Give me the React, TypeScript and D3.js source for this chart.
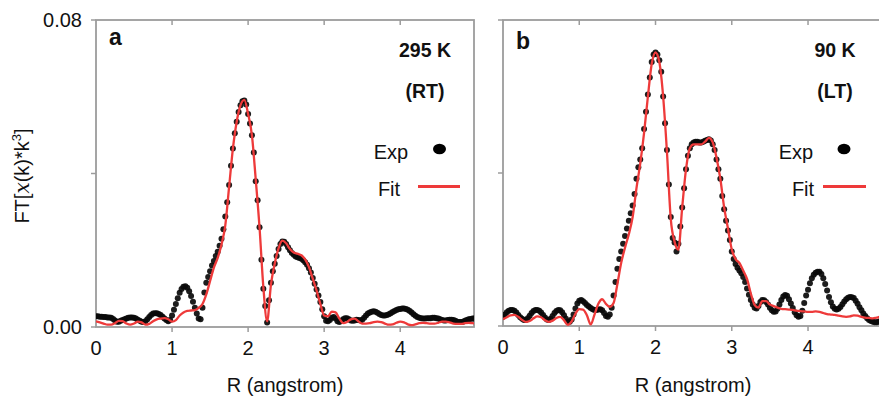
import React from 'react';
import * as d3 from 'd3';

// ---------- data (values in units of 1e-3) ----------
const Y_UNIT = 0.001;
const EXP_STEP = 0.025; // R sampling of experimental points (angstrom)
const FIT_STEP = 0.05; // R sampling of the fit curve (angstrom)

const EXP_A = [
  2.8, 2.8, 2.7, 2.7, 2.6, 2.6, 2.5, 2.5, 2.4, 2.1,
  1.7, 1.4, 1.4, 1.6, 1.8, 2.0, 2.2, 2.4, 2.5, 2.5,
  2.4, 2.2, 1.9, 1.6, 1.4, 1.3, 1.5, 2.0, 2.6, 3.1,
  3.5, 3.6, 3.6, 3.4, 3.1, 2.7, 2.2, 1.8, 1.5, 1.8,
  3.0, 4.5, 6.0, 7.5, 8.9, 9.9, 10.5, 10.6, 10.2, 9.3,
  8.1, 6.6, 5.0, 3.5, 2.2, 2.0, 5.0, 9.0, 11.5, 13.0,
  14.5, 16.0, 17.2, 18.5, 19.6, 21.2, 23.0, 25.5, 28.8, 32.5,
  37.0, 42.0, 46.5, 50.5, 53.5, 56.0, 57.8, 58.8, 59.0, 58.0,
  55.5, 53.0, 50.0, 45.5, 38.0, 33.0, 26.0, 17.5, 10.0, 5.5,
  1.2, 7.0, 11.5, 14.5, 16.5, 18.5, 20.3, 21.6, 22.3, 22.2,
  21.6, 20.8, 20.0, 19.3, 18.8, 18.4, 18.2, 18.0, 17.8, 17.4,
  16.9, 16.2, 15.3, 14.2, 12.8, 11.3, 9.8, 8.2, 6.5, 4.6,
  2.8, 1.6, 1.5, 1.8, 2.4, 2.6, 2.2, 1.5, 1.3, 1.6,
  2.0, 2.3, 2.3, 2.0, 1.7, 1.6, 1.7, 1.9, 1.8, 1.7,
  1.9, 2.4, 3.0, 3.5, 3.8, 4.0, 4.1, 4.0, 3.7, 3.4,
  3.1, 3.0, 3.0, 3.1, 3.3, 3.6, 3.9, 4.2, 4.4, 4.6,
  4.7, 4.8, 4.8, 4.7, 4.5, 4.2, 3.8, 3.3, 2.9, 2.6,
  2.4, 2.3, 2.2, 2.2, 2.3, 2.3, 2.3, 2.4, 2.4, 2.3,
  2.2, 2.0, 1.8, 1.7, 1.7, 1.8, 1.9, 1.9, 1.8, 1.6,
  1.4, 1.3, 1.3, 1.4, 1.6, 1.8, 2.0, 2.1, 2.2, 2.2,
];

const FIT_A = [
  1.5, 1.2, 0.9, 0.6, 0.6, 1.0, 1.6, 1.5, 0.9, 0.6,
  0.9, 1.4, 1.2, 0.6, 0.8, 1.5, 2.0, 2.2, 2.3, 2.0,
  1.4, 1.8, 3.0, 3.8, 4.2, 4.3, 4.4, 5.0, 6.0, 8.5,
  12.0, 15.5, 18.0, 21.5, 26.5, 36.5, 46.5, 53.5, 57.8, 59.2,
  55.5, 50.0, 38.5, 26.0, 10.5, 1.5, 11.0, 16.5, 20.5, 22.5,
  21.8, 20.3, 19.4, 19.1, 18.7, 17.6, 15.6, 12.6, 9.5, 6.0,
  3.0, 2.8, 4.0, 3.8, 2.2, 1.0, 1.3, 2.0, 2.2, 1.5,
  0.9, 0.9, 1.0, 1.3, 1.4, 1.3, 0.9, 0.6, 0.7, 1.1,
  1.4, 1.2, 0.7, 0.5, 0.7, 1.0, 1.1, 1.0, 0.9, 0.9,
  1.1, 1.4, 1.4, 1.2, 0.9, 0.8, 0.8, 1.0, 1.1, 1.0,
  0.9,
];

const EXP_B = [
  2.4, 3.0, 3.6, 4.0, 4.2, 4.2, 4.0, 3.5, 2.9, 2.3,
  1.9, 1.6, 1.6, 2.0, 2.7, 3.4, 3.9, 4.2, 4.2, 4.0,
  3.5, 2.9, 2.2, 1.7, 1.6, 1.9, 2.6, 3.4, 3.9, 4.2,
  4.1, 3.6, 2.8, 1.9, 1.2, 1.1, 1.7, 3.0, 4.6, 5.9,
  6.6, 6.8, 6.5, 6.0, 5.5, 5.1, 4.7, 4.4, 4.2, 4.2,
  4.3, 4.4, 4.1, 3.4, 2.6, 2.4, 3.0, 4.8, 8.0, 11.5,
  15.0, 17.5, 19.5, 21.5, 23.5, 25.5, 27.5, 29.5, 31.5, 34.5,
  38.5, 41.5, 43.5, 46.5, 51.5, 56.0, 60.5, 65.0, 69.0, 71.0,
  71.5, 71.0, 69.5, 66.5, 60.0, 53.0, 46.0, 37.0, 28.5, 23.0,
  21.8, 19.5, 21.5, 26.0, 31.0, 36.0, 41.0, 44.5, 46.5, 47.5,
  48.0, 48.2, 48.2, 48.0, 48.0, 48.2, 48.4, 48.6, 48.8, 48.5,
  47.5, 46.0, 43.5, 41.0, 38.5, 34.0, 30.5, 27.5, 25.0, 22.5,
  19.5, 17.5, 16.2, 15.2, 14.5, 13.8, 12.8, 11.5, 9.8, 8.2,
  6.8, 5.6, 4.8, 4.6, 5.2, 6.3, 6.8, 6.7, 6.3, 5.6,
  4.8, 4.1, 3.7, 3.8, 4.5, 5.6, 6.8, 7.7, 8.1, 7.9,
  7.0, 5.9, 4.7, 3.6, 2.8, 2.4, 2.6, 4.0, 6.0, 8.0,
  9.5, 11.2, 12.5, 13.4, 13.9, 14.2, 14.2, 13.6, 12.5, 11.0,
  9.3, 7.6, 6.2, 5.1, 4.5, 4.3, 4.5, 5.0, 5.7, 6.4,
  7.0, 7.4, 7.6, 7.5, 7.3, 6.6, 5.8, 4.9, 4.1, 3.3,
  2.6, 2.0, 1.6, 1.3, 1.1, 1.0, 1.0, 1.1, 1.3, 1.5,
];

const FIT_B = [
  1.8, 2.3, 2.8, 2.9, 2.4, 1.6, 1.1, 1.3, 2.0, 2.5,
  2.3, 1.5, 1.1, 1.4, 2.1, 2.4, 1.5, 0.3, 1.2, 3.2,
  4.4, 4.3, 2.8, 0.4, 3.0, 5.8, 7.0, 5.8, 5.0, 6.0,
  11.0, 16.5, 20.5, 24.0, 28.5, 36.0, 42.5, 50.5, 60.0, 68.5,
  71.5, 69.0, 60.0, 45.5, 28.0, 22.0, 20.0, 31.0, 41.0, 46.5,
  47.5, 47.5, 47.5, 48.2, 49.2, 48.0, 44.0, 38.5, 31.0, 25.5,
  20.0, 17.5, 16.5, 14.5, 12.3, 8.5, 5.5, 4.8, 6.5, 6.5,
  5.6, 5.2, 4.8, 4.5, 4.4, 4.3, 4.2, 4.0, 3.9, 3.8,
  3.7, 3.7, 3.8, 3.7, 3.4, 3.1, 3.0, 2.9, 2.7, 2.5,
  2.4, 2.5, 2.8, 2.7, 2.4, 2.2, 2.1, 2.0, 2.2, 2.4,
  2.3,
];

const X_TICKS = [0, 1, 2, 3, 4];
const X_TICK_LABELS = ['0', '1', '2', '3', '4'];
const Y_TICKS = [0, 0.04, 0.08];
const Y_TICK_LABELS = ['0.00', '', '0.08'];
const X_DOMAIN = [0, 4.97];
const Y_DOMAIN = [0, 0.08];
const LEGEND_LABELS = ['Exp', 'Fit'];

const FONT = "'Liberation Sans', Arial, Helvetica, sans-serif";
const FRAME = '#9c9c9c';
const RED = '#ee3a3a';

type PanelProps = {
  id: string;
  exp: number[];
  fit: number[];
  left: number;
  right: number;
  top: number;
  bottom: number;
  letter: string;
  letterPos: [number, number];
  temp: string;
  phase: string;
  tempX: number;
  expLabelX: number;
  markerX: number;
  fitLabelX: number;
  lineX: [number, number];
  showYLabels: boolean;
  xLabelX: number;
};

function Panel(p: PanelProps) {
  const x = d3.scaleLinear().domain(X_DOMAIN).range([p.left, p.right]);
  const y = d3.scaleLinear().domain(Y_DOMAIN).range([p.bottom, p.top]);
  const expPts = p.exp.map((v, i) => [i * EXP_STEP, v * Y_UNIT] as [number, number]);
  const fitPts = p.fit.map((v, i) => [i * FIT_STEP, v * Y_UNIT] as [number, number]);
  const line = d3
    .line<[number, number]>()
    .x((d) => x(d[0]))
    .y((d) => y(d[1]))
    .curve(d3.curveMonotoneX);
  const clipId = `clip-${p.id}`;
  return (
    <g>
      <defs>
        <clipPath id={clipId}>
          <rect x={p.left} y={p.top - 10} width={p.right - p.left} height={p.bottom - p.top + 14} />
        </clipPath>
      </defs>
      {/* frame */}
      <rect
        x={p.left}
        y={p.top}
        width={p.right - p.left}
        height={p.bottom - p.top}
        fill="none"
        stroke={FRAME}
        strokeWidth={1.8}
      />
      {/* x ticks bottom (outward) and top (inward) */}
      {X_TICKS.map((t, i) => (
        <g key={`xt${i}`}>
          {t > 0 && (
            <line x1={x(t)} x2={x(t)} y1={p.bottom} y2={p.bottom + 5} stroke={FRAME} strokeWidth={1.5} />
          )}
          {t > 0 && <line x1={x(t)} x2={x(t)} y1={p.top} y2={p.top + 5} stroke={FRAME} strokeWidth={1.5} />}
          <text
            x={x(t)}
            y={p.bottom + 28}
            textAnchor="middle"
            fontFamily={FONT}
            fontSize={20}
            fill="#111"
          >
            {X_TICK_LABELS[i]}
          </text>
        </g>
      ))}
      {/* y ticks */}
      {Y_TICKS.map((t, i) => (
        <g key={`yt${i}`}>
          <line x1={p.left - 5} x2={p.left} y1={y(t)} y2={y(t)} stroke={FRAME} strokeWidth={1.5} />
          {p.showYLabels && Y_TICK_LABELS[i] && (
            <text
              x={p.left - 14}
              y={y(t) + 7}
              textAnchor="end"
              fontFamily={FONT}
              fontSize={20}
              fill="#111"
            >
              {Y_TICK_LABELS[i]}
            </text>
          )}
        </g>
      ))}
      {/* data */}
      <g clipPath={`url(#${clipId})`}>
        {expPts.map((d, i) => (
          <circle key={i} cx={x(d[0])} cy={y(d[1])} r={3} fill="#0a0a0a" fillOpacity={0.92} />
        ))}
        <path d={line(fitPts) || ''} fill="none" stroke={RED} strokeWidth={2.3} strokeLinejoin="round" />
      </g>
      {/* panel letter */}
      <text x={p.letterPos[0]} y={p.letterPos[1]} fontFamily={FONT} fontWeight="bold" fontSize={23} fill="#111">
        {p.letter}
      </text>
      {/* temperature labels */}
      <text x={p.tempX} y={57} textAnchor="middle" fontFamily={FONT} fontWeight="bold" fontSize={19.5} fill="#111">
        {p.temp}
      </text>
      <text x={p.tempX} y={98} textAnchor="middle" fontFamily={FONT} fontWeight="bold" fontSize={19.5} fill="#111">
        {p.phase}
      </text>
      {/* legend */}
      <text x={p.expLabelX} y={159} textAnchor="middle" fontFamily={FONT} fontSize={20} fill="#111">
        {LEGEND_LABELS[0]}
      </text>
      <ellipse cx={p.markerX} cy={149} rx={6.5} ry={5.3} fill="#000" />
      <text x={p.fitLabelX} y={196} textAnchor="middle" fontFamily={FONT} fontSize={20} fill="#111">
        {LEGEND_LABELS[1]}
      </text>
      <line x1={p.lineX[0]} x2={p.lineX[1]} y1={186.5} y2={186.5} stroke={RED} strokeWidth={3} />
      {/* x axis title */}
      <text x={p.xLabelX} y={392} textAnchor="middle" fontFamily={FONT} fontSize={20} fill="#111">
        R (angstrom)
      </text>
    </g>
  );
}

export default function App() {
  return (
    <svg
      width={879}
      height={398}
      style={{ position: 'absolute', left: 0, top: 0, background: '#fff' }}
      xmlns="http://www.w3.org/2000/svg"
    >
      <rect x={0} y={0} width={879} height={398} fill="#fff" />
      <Panel
        id="a"
        exp={EXP_A}
        fit={FIT_A}
        left={96}
        right={474}
        top={20}
        bottom={327}
        letter="a"
        letterPos={[109, 45]}
        temp="295 K"
        phase="(RT)"
        tempX={425}
        expLabelX={391}
        markerX={439.5}
        fitLabelX={389}
        lineX={[418, 460]}
        showYLabels={true}
        xLabelX={285}
      />
      <Panel
        id="b"
        exp={EXP_B}
        fit={FIT_B}
        left={503}
        right={882}
        top={20}
        bottom={326}
        letter="b"
        letterPos={[516, 49]}
        temp="90 K"
        phase="(LT)"
        tempX={835}
        expLabelX={796}
        markerX={844}
        fitLabelX={803}
        lineX={[823, 866]}
        showYLabels={false}
        xLabelX={693}
      />
      {/* y axis title */}
      <text
        transform="translate(29,176) rotate(-90)"
        textAnchor="middle"
        fontFamily={FONT}
        fontSize={20}
        fill="#111"
      >
        FT[
        <tspan fontFamily="'DejaVu Serif', 'Liberation Serif', serif" fontStyle="italic">
          x
        </tspan>
        (k)*k
        <tspan dy={-8} fontSize={13}>
          3
        </tspan>
        <tspan dy={8}>]</tspan>
      </text>
    </svg>
  );
}
